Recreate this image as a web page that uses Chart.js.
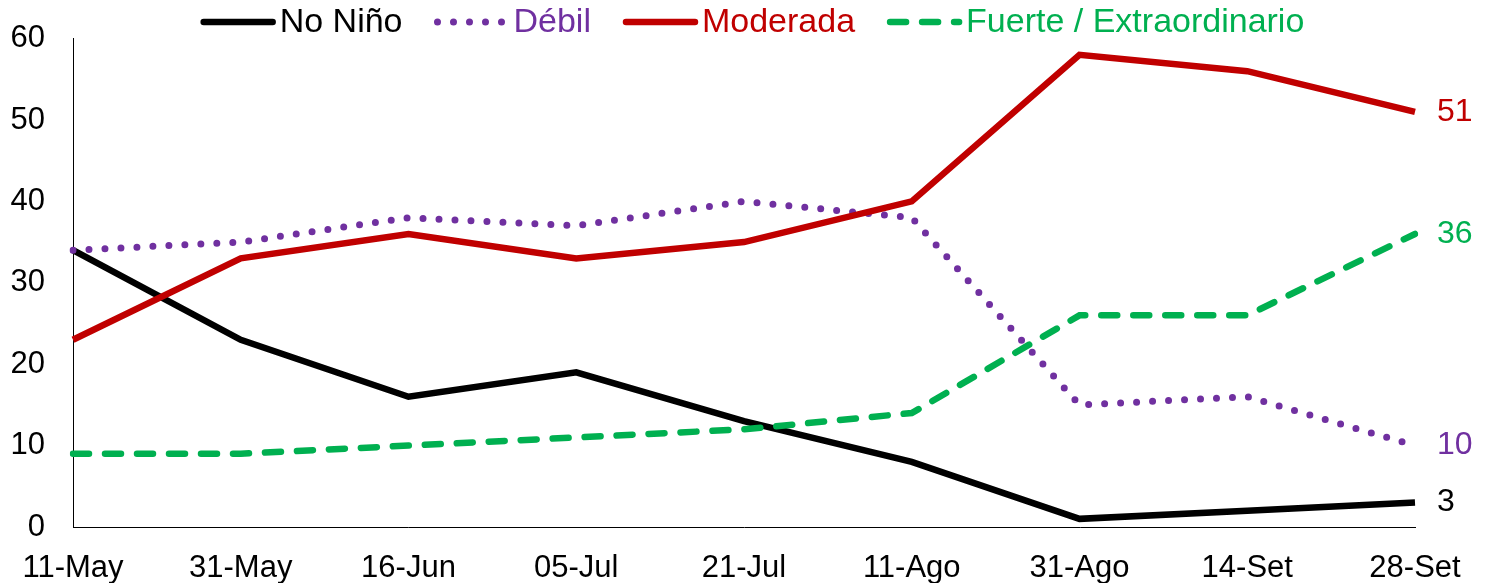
<!DOCTYPE html>
<html>
<head>
<meta charset="utf-8">
<script src="https://cdn.jsdelivr.net/npm/chart.js@4.4.0/dist/chart.umd.min.js"></script>
<style>
  html, body { margin: 0; padding: 0; background: #fff; }
</style>
</head>
<body>
<canvas id="enosChart" width="1489" height="583"></canvas>
<script>
const fechas = ["11-May", "31-May", "16-Jun", "05-Jul", "21-Jul", "11-Ago", "31-Ago", "14-Set", "28-Set"];
const noNino = [34, 23, 16, 19, 13, 8, 1, 2, 3];
const debil = [34, 35, 38, 37, 40, 38, 15, 16, 10];
const moderada = [23, 33, 36, 33, 35, 40, 58, 56, 51];
const fuerte = [9, 9, 10, 11, 12, 14, 26, 26, 36];
const yTicks = [0, 10, 20, 30, 40, 50, 60];

const fuente = '"Liberation Sans", Arial, sans-serif';

// leyenda arriba, muestra de linea pegada al texto
const leyendaSuperior = {
    id: "leyendaSuperior",
    afterDraw(chart) {
        const ctx = chart.ctx;
        const sets = chart.data.datasets;
        const largo = 75, sep = 4, entre = 32, y = 22;
        ctx.save();
        ctx.font = "34px " + fuente;
        ctx.textBaseline = "middle";
        ctx.textAlign = "left";
        let total = 0;
        sets.forEach((ds, i) => {
            total += largo + sep + ctx.measureText(ds.label).width;
            if (i < sets.length - 1) total += entre;
        });
        let x = chart.width / 2 + 8 - total / 2;
        sets.forEach((ds) => {
            ctx.beginPath();
            ctx.strokeStyle = ds.borderColor;
            ctx.lineWidth = ds.borderWidth;
            ctx.lineCap = "round";
            ctx.setLineDash(ds.borderDash || []);
            ctx.moveTo(x + 3, y);
            ctx.lineTo(x + largo - 3, y);
            ctx.stroke();
            ctx.setLineDash([]);
            ctx.fillStyle = ds.borderColor;
            ctx.fillText(ds.label, x + largo + sep, y + 1);
            x += largo + sep + ctx.measureText(ds.label).width + entre;
        });
        ctx.restore();
    },
};

// valor del ultimo punto a la derecha de cada serie
const etiquetasFinales = {
    id: "etiquetasFinales",
    afterDatasetsDraw(chart) {
        const ctx = chart.ctx;
        ctx.save();
        ctx.font = "32px " + fuente;
        ctx.textBaseline = "middle";
        ctx.textAlign = "left";
        chart.data.datasets.forEach((ds, i) => {
            const meta = chart.getDatasetMeta(i);
            const last = meta.data[meta.data.length - 1];
            ctx.fillStyle = ds.borderColor;
            ctx.fillText(String(ds.data[ds.data.length - 1]), last.x + 22, last.y);
        });
        ctx.restore();
    },
};

const ctx = document.getElementById("enosChart").getContext("2d");

window.enosChart = new Chart(ctx, {
    type: "line",
    data: {
        labels: fechas,
        datasets: [
            {
                label: "No Niño",
                data: noNino,
                borderColor: "#000000",
                borderWidth: 6.5,
                order: 4,
            },
            {
                label: "Débil",
                data: debil,
                borderColor: "#7030A0",
                borderWidth: 7,
                borderDash: [0, 16],
                borderCapStyle: "round",
                order: 3,
            },
            {
                label: "Moderada",
                data: moderada,
                borderColor: "#C00000",
                borderWidth: 6.5,
                order: 2,
            },
            {
                label: "Fuerte / Extraordinario",
                data: fuerte,
                borderColor: "#00B050",
                borderWidth: 6.5,
                borderDash: [16, 16],
                borderCapStyle: "round",
                order: 1,
            },
        ],
    },
    options: {
        responsive: false,
        devicePixelRatio: 1,
        animation: false,
        layout: {
            padding: { top: 34, right: 74, bottom: 0, left: 0 },
        },
        elements: {
            point: { radius: 0, hoverRadius: 0 },
            line: { tension: 0, fill: false },
        },
        scales: {
            x: {
                offset: false,
                grid: { display: false },
                border: { display: true, color: "#000", width: 1 },
                ticks: {
                    color: "#000",
                    font: { size: 31, family: fuente },
                    padding: 15,
                    maxRotation: 0,
                    autoSkip: false,
                },
                afterFit(scale) {
                    scale.height = 56;
                },
            },
            y: {
                min: 0,
                max: 60,
                grid: { display: false },
                border: { display: true, color: "#000", width: 1 },
                afterBuildTicks(scale) {
                    scale.ticks = yTicks.map((v) => ({ value: v }));
                },
                ticks: {
                    color: "#000",
                    font: { size: 31, family: fuente },
                    padding: 20,
                },
                afterFit(scale) {
                    scale.width = 73;
                },
            },
        },
        plugins: {
            legend: { display: false },
            tooltip: { enabled: false },
        },
    },
    plugins: [leyendaSuperior, etiquetasFinales],
});
</script>
</body>
</html>
